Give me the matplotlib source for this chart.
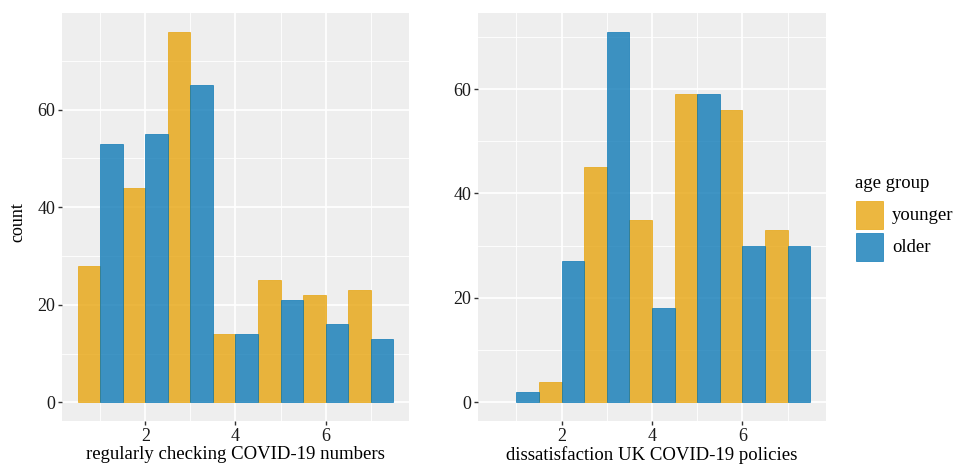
import numpy as np
import matplotlib
matplotlib.use("Agg")
import matplotlib.pyplot as plt

plt.rcParams['font.family'] = ['Liberation Serif', 'DejaVu Serif']

levels = [1, 2, 3, 4, 5, 6, 7]
groups = ["younger", "older"]
colors = {"younger": "#E69F00", "older": "#0072B2"}

checking_younger = [28, 44, 76, 14, 25, 22, 23]
checking_older = [53, 55, 65, 14, 21, 16, 13]
dissat_younger = [0, 4, 45, 35, 59, 56, 33]
dissat_older = [2, 27, 71, 18, 59, 30, 30]

panels = [
    ("regularly checking COVID-19 numbers", checking_younger, checking_older),
    ("dissatisfaction UK COVID-19 policies", dissat_younger, dissat_older),
]

W, H = 954, 470
fig = plt.figure(figsize=(W / 100, H / 100), dpi=100)
boxes = [(62, 13, 409, 421), (478, 13, 826, 421)]

for (title, young, old), (x0, y0, x1, y1) in zip(panels, boxes):
    ax = fig.add_axes([x0 / W, 1 - y1 / H, (x1 - x0) / W, (y1 - y0) / H])
    ax.set_facecolor("#EEEEEE")
    x = np.array(levels, dtype=float)
    for vals, off, g in [(young, -0.25, "younger"), (old, 0.25, "older")]:
        vals = np.array(vals)
        keep = vals > 0  # empty bins draw nothing
        ax.bar(x[keep] + off, vals[keep], width=0.5, color=colors[g], alpha=0.75,
               edgecolor=colors[g], linewidth=0.6, zorder=3)
    ymax = max(max(young), max(old))
    ax.set_xlim(0.15, 7.85)
    ax.set_ylim(-0.05 * ymax, 1.05 * ymax)
    ax.set_xticks([2, 4, 6])
    ax.set_xticks([1, 3, 5, 7], minor=True)
    ax.set_yticks([0, 20, 40, 60])
    ax.set_yticks([10, 30, 50, 70], minor=True)
    ax.grid(which="major", color="white", linewidth=1.2, zorder=0)
    ax.grid(which="minor", color="white", linewidth=0.6, zorder=0)
    ax.tick_params(which="major", length=3, width=1, color="#333333",
                   labelsize=13, labelcolor="#1a1a1a", pad=2)
    ax.tick_params(which="minor", length=0)
    for s in ax.spines.values():
        s.set_visible(False)
    ax.set_xlabel(title, fontsize=13.5, labelpad=1)

fig.text(18 / W, 1 - 222 / H, "count", rotation=90, fontsize=13,
         ha="center", va="center")

fig.text(855 / W, 1 - 183 / H, "age group", fontsize=13.5, ha="left", va="center")
for i, g in enumerate(groups):
    ky = 201 + i * 32
    fig.patches.append(plt.Rectangle((856 / W, 1 - (ky + 28) / H), 27 / W, 28 / H,
                                     transform=fig.transFigure, facecolor=colors[g],
                                     alpha=0.75, edgecolor=colors[g], linewidth=0.6))
    fig.text(892 / W, 1 - (ky + 15) / H, g, fontsize=13.5, ha="left", va="center")

fig.savefig("out.png", dpi=100)
